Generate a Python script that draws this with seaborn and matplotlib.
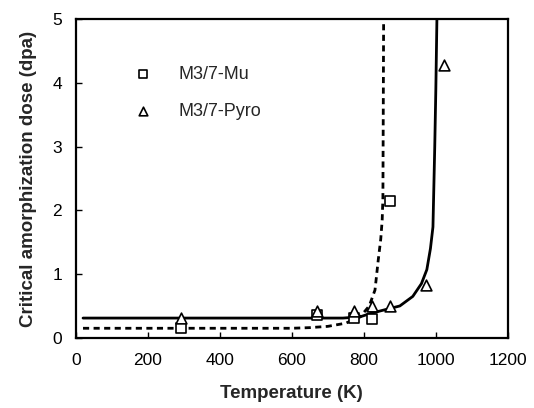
import pandas as pd
import matplotlib.pyplot as plt
import seaborn as sns

# --- measured doses (dpa) ---
mu_temp = [293, 670, 773, 823, 873]
mu_dose = [0.16, 0.36, 0.31, 0.30, 2.15]

pyro_temp = [293, 670, 773, 823, 873, 973, 1023]
pyro_dose = [0.31, 0.42, 0.42, 0.50, 0.50, 0.83, 4.28]

# --- fitted curves ---
mu_fit_temp = [20, 300, 600, 650, 700, 750, 790, 815, 831, 840, 847, 851, 853, 855]
mu_fit_dose = [0.15, 0.15, 0.15, 0.16, 0.18, 0.23, 0.33, 0.50, 0.75, 1.22, 1.55, 1.85, 2.2, 5.0]

pyro_fit_temp = [20, 300, 600, 700, 742, 790, 817, 858, 900, 936, 960, 975, 985, 992, 997, 1000, 1003]
pyro_fit_dose = [0.31, 0.31, 0.31, 0.31, 0.31, 0.33, 0.38, 0.44, 0.50, 0.65, 0.85, 1.07, 1.40, 1.74, 3.0, 3.9, 5.0]

x_ticks = [0, 200, 400, 600, 800, 1000, 1200]
y_ticks = [0, 1, 2, 3, 4, 5]

sns.set_theme(style="ticks")
plt.rcParams['font.family'] = ['Liberation Sans', 'DejaVu Sans']

mu = pd.DataFrame({'T': mu_temp, 'D': mu_dose})
pyro = pd.DataFrame({'T': pyro_temp, 'D': pyro_dose})
mu_fit = pd.DataFrame({'T': mu_fit_temp, 'D': mu_fit_dose})
pyro_fit = pd.DataFrame({'T': pyro_fit_temp, 'D': pyro_fit_dose})

fig, ax = plt.subplots(figsize=(5.34, 4.08), dpi=100)
fig.subplots_adjust(left=0.142, right=0.951, bottom=0.172, top=0.953)

sns.lineplot(data=pyro_fit, x='T', y='D', ax=ax, color='black', lw=2, sort=False)
sns.lineplot(data=mu_fit, x='T', y='D', ax=ax, color='black', lw=2,
             linestyle=(0, (2.2, 1.6)), sort=False)

sns.scatterplot(data=mu, x='T', y='D', ax=ax, marker='s', s=55,
                facecolor='white', edgecolor='black', linewidth=1.2,
                label='M3/7-Mu', zorder=3)
sns.scatterplot(data=pyro, x='T', y='D', ax=ax, marker='^', s=60,
                facecolor='white', edgecolor='black', linewidth=1.2,
                label='M3/7-Pyro', zorder=3)

ax.set_xlim(0, 1200)
ax.set_ylim(0, 5)
ax.set_xticks(x_ticks)
ax.set_yticks(y_ticks)
ax.tick_params(direction='in', length=4, width=1, labelsize=12.5, colors='black')
ax.tick_params(axis='x', pad=11)
ax.tick_params(axis='y', pad=10)
for sp in ax.spines.values():
    sp.set_linewidth(1.6)
    sp.set_color('black')

ax.set_xlabel('Temperature (K)', fontsize=13.5, fontweight='bold', labelpad=12)
ax.set_ylabel('Critical amorphization dose (dpa)', fontsize=13.5, fontweight='bold', labelpad=11)

ax.legend(loc='upper left', bbox_to_anchor=(0.075, 0.905), frameon=False,
          fontsize=13, handletextpad=1.0, labelspacing=1.1, markerscale=0.8)

fig.savefig('out.png', dpi=100)
